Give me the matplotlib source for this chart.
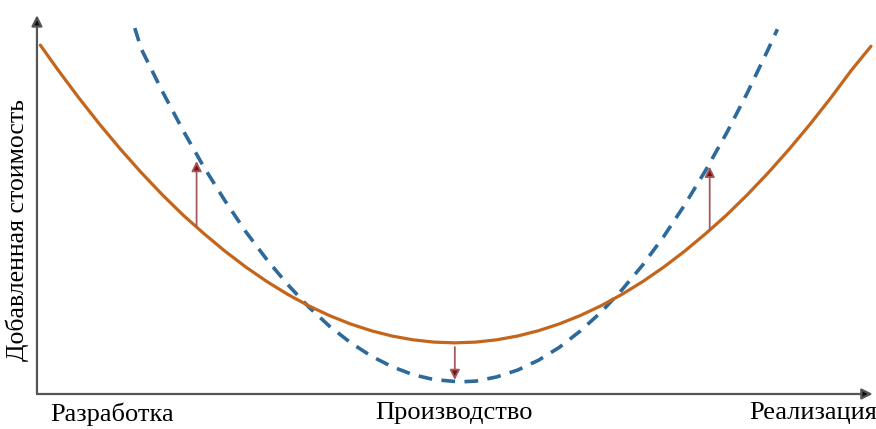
import matplotlib
matplotlib.use("Agg")
import matplotlib.pyplot as plt

plt.rcParams["font.family"] = ["Liberation Serif", "DejaVu Serif"]

# value added curves (x: value chain stage 0..100, y: value 0..100)
current_x = [0.4, 2.5, 5.0, 7.5, 10.0, 12.5, 15.0, 17.5, 20.0, 22.5, 25.0,
             27.5, 30.0, 32.5, 35.0, 37.5, 40.0, 42.5, 45.0, 47.5, 50.0,
             52.5, 55.0, 57.5, 60.0, 62.5, 65.0, 67.5, 70.0, 72.5, 75.0,
             77.5, 80.0, 82.5, 85.0, 87.5, 90.0, 92.5, 95.0, 97.5, 99.8]
current_y = [92.1, 85.6, 78.2, 71.2, 64.6, 58.4, 52.6, 47.2, 42.3, 37.7, 33.5,
             29.7, 26.3, 23.3, 20.7, 18.5, 16.7, 15.3, 14.3, 13.7, 13.5,
             13.7, 14.3, 15.3, 16.7, 18.5, 20.7, 23.3, 26.3, 29.7, 33.5,
             37.7, 42.3, 47.2, 52.6, 58.4, 64.6, 71.2, 78.2, 85.6, 91.8]

future_x = [11.7, 12.5, 15.0, 17.5, 20.0, 22.5, 25.0, 27.5, 30.0, 32.5, 35.0,
            37.5, 40.0, 42.5, 45.0, 47.5, 50.6, 52.5, 55.0, 57.5, 60.0, 62.5,
            65.0, 67.5, 70.0, 72.5, 75.0, 77.5, 80.0, 82.5, 85.0, 87.5, 88.6]
future_y = [96.6, 91.0, 79.9, 69.5, 59.8, 51.0, 42.8, 35.5, 28.9, 23.0, 17.9,
            13.6, 10.0, 7.2, 5.1, 3.8, 3.2, 3.4, 4.5, 6.3, 8.9, 12.3,
            16.6, 21.6, 27.5, 34.1, 41.6, 49.9, 59.0, 68.8, 79.5, 91.0, 96.3]

# shift arrows: (x, from y, to y)
shift_x = [19.1, 50.0, 80.5]
shift_from = [44.2, 12.4, 43.3]
shift_to = [61.5, 3.7, 60.0]

stage_pos = [9.0, 49.9, 92.9]
stage_labels = ["Разработка", "Производство", "Реализация"]
y_title = "Добавленная стоимость"

fig = plt.figure(figsize=(8.76, 4.29), dpi=100)
ax = fig.add_axes([0.0422, 0.0816, 0.954, 0.883])
ax.set_xlim(0, 100)
ax.set_ylim(0, 100)

for side in ["top", "right", "left", "bottom"]:
    ax.spines[side].set_visible(False)

# axes drawn as arrows
for tip in [(0, 1.0), (1.0, 0)]:
    ax.annotate("", xy=tip, xytext=(0, 0), xycoords="axes fraction",
                arrowprops=dict(arrowstyle="-|>", color="#555555", lw=1.6,
                                mutation_scale=16, shrinkA=0, shrinkB=0,
                                fc="#111111", ec="#555555"),
                annotation_clip=False)

ax.plot(current_x, current_y, color="#c4651c", lw=2.3, solid_capstyle="round", zorder=3)
ax.plot(future_x, future_y, color="#2c6a9c", lw=2.6, linestyle=(0, (3.8, 2.6)),
        zorder=2)

for x, y0, y1 in zip(shift_x, shift_from, shift_to):
    ax.annotate("", xy=(x, y1), xytext=(x, y0),
                arrowprops=dict(arrowstyle="-|>", lw=1.3, mutation_scale=15,
                                shrinkA=0, shrinkB=0, ec="#a45a5a", fc="#7a0f14"),
                zorder=4)

ax.set_xticks(stage_pos)
ax.set_xticklabels(stage_labels, fontsize=19)
ax.tick_params(axis="x", length=0, pad=6)
ax.set_yticks([])
ax.set_ylabel(y_title, fontsize=18.5)
ax.yaxis.set_label_coords(-0.009, 0.433)

fig.savefig("out.png", dpi=100)
